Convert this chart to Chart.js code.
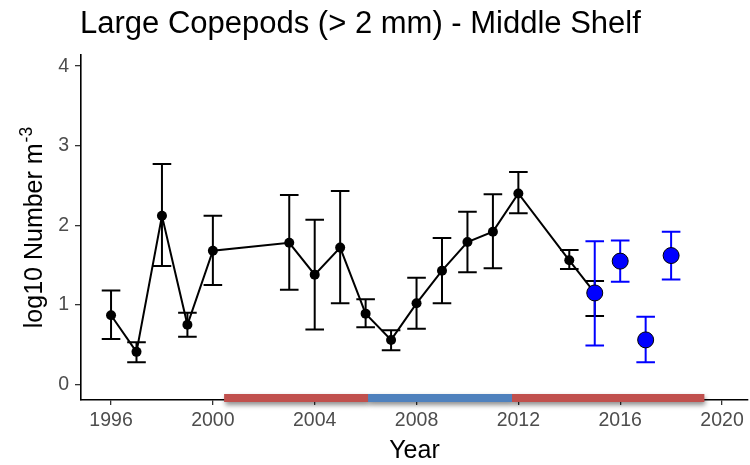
<!DOCTYPE html>
<html>
<head>
<meta charset="utf-8">
<script src="https://cdn.jsdelivr.net/npm/chart.js@4.4.1/dist/chart.umd.min.js"></script>
<style>
  html, body { margin: 0; padding: 0; background: #ffffff; }
  #wrap { width: 750px; height: 465px; position: relative; }
</style>
</head>
<body>
<div id="wrap"><canvas id="chart" width="750" height="465"></canvas></div>
<script>
// Survey years with mean abundance (log10 number per m^3) and error-bar limits
const surveyYears = [1996, 1997, 1998, 1999, 2000, 2003, 2004, 2005, 2006, 2007, 2008, 2009, 2010, 2011, 2012, 2014, 2015];
const surveyMean  = [0.87, 0.41, 2.12, 0.75, 1.68, 1.78, 1.38, 1.72, 0.89, 0.56, 1.02, 1.43, 1.79, 1.92, 2.40, 1.56, 1.15];
const surveyLow   = [0.57, 0.28, 1.49, 0.60, 1.25, 1.19, 0.69, 1.02, 0.72, 0.43, 0.70, 1.02, 1.41, 1.46, 2.15, 1.45, 0.86];
const surveyHigh  = [1.18, 0.53, 2.77, 0.90, 2.12, 2.38, 2.07, 2.43, 1.07, 0.68, 1.34, 1.84, 2.17, 2.39, 2.67, 1.69, 1.30];

// Recent-year estimates
const recentYears = [2015, 2016, 2017, 2018];
const recentMean  = [1.15, 1.55, 0.56, 1.62];
const recentLow   = [0.49, 1.29, 0.28, 1.32];
const recentHigh  = [1.80, 1.81, 0.85, 1.92];

// Warm / cold periods along the time axis
const periodStart = [2000.45, 2006.1, 2011.75];
const periodEnd   = [2006.1, 2011.75, 2019.3];
const periodKind  = ['warm', 'cold', 'warm'];

// Axis ticks
const xTicks = [1996, 2000, 2004, 2008, 2012, 2016, 2020];
const yTicks = [0, 1, 2, 3, 4];

const FONT = '"Liberation Sans", Arial, Helvetica, sans-serif';
const periodColors = { warm: '#C0504D', cold: '#4F81BD' };

const toXY = (xs, ys) => xs.map((x, i) => ({ x: x, y: ys[i] }));

// Error bars drawn just beneath each dataset's own points
const errorBars = {
  id: 'errorBars',
  beforeDatasetDraw(chart, args) {
    const ds = chart.data.datasets[args.index];
    if (!ds.errYears) return;
    const { x, y } = chart.scales;
    const ctx = chart.ctx;
    const half = 9.3;
    ctx.save();
    ctx.strokeStyle = ds.errColor;
    ctx.lineWidth = 2;
    ctx.lineCap = 'butt';
    ds.errYears.forEach((yr, i) => {
      const px = x.getPixelForValue(yr);
      const pLo = y.getPixelForValue(ds.errLow[i]);
      const pHi = y.getPixelForValue(ds.errHigh[i]);
      ctx.beginPath();
      ctx.moveTo(px, pLo); ctx.lineTo(px, pHi);
      ctx.moveTo(px - half, pLo); ctx.lineTo(px + half, pLo);
      ctx.moveTo(px - half, pHi); ctx.lineTo(px + half, pHi);
      ctx.stroke();
    });
    ctx.restore();
  }
};

// Period strip along the bottom of the panel, with a soft drop shadow
const periodStrip = {
  id: 'periodStrip',
  afterDatasetsDraw(chart) {
    const { x } = chart.scales;
    const area = chart.chartArea;
    const ctx = chart.ctx;
    const top = area.bottom - 6, h = 8;
    const paint = () => periodStart.forEach((s, i) => {
      const x0 = x.getPixelForValue(s);
      const x1 = x.getPixelForValue(periodEnd[i]);
      ctx.fillStyle = periodColors[periodKind[i]];
      ctx.fillRect(x0, top, x1 - x0, h);
    });
    ctx.save();
    ctx.shadowColor = 'rgba(0,0,0,0.45)';
    ctx.shadowBlur = 5;
    ctx.shadowOffsetX = 1;
    ctx.shadowOffsetY = 3;
    paint();
    ctx.restore();
    // repaint without shadow so neighbouring segments stay crisp
    ctx.save();
    paint();
    ctx.restore();
  }
};

// Title and axis titles (y title carries a superscript exponent)
const titles = {
  id: 'titles',
  afterDraw(chart) {
    const ctx = chart.ctx;
    const area = chart.chartArea;
    ctx.save();
    ctx.fillStyle = '#000';
    ctx.textBaseline = 'alphabetic';
    ctx.textAlign = 'left';
    ctx.font = '31px ' + FONT;
    ctx.fillText('Large Copepods (> 2 mm) - Middle Shelf', 80, 33);

    ctx.textAlign = 'center';
    ctx.font = '25px ' + FONT;
    ctx.fillText('Year', (area.left + area.right) / 2, 458);

    // rotated y title
    const main = 'log10 Number m';
    const sup = '-3';
    ctx.font = '25px ' + FONT;
    const wMain = ctx.measureText(main).width;
    ctx.font = '17.5px ' + FONT;
    const wSup = ctx.measureText(sup).width;
    const total = wMain + wSup + 1;
    const cy = (area.top + area.bottom) / 2;
    ctx.translate(42, cy);
    ctx.rotate(-Math.PI / 2);
    ctx.textAlign = 'left';
    ctx.font = '25px ' + FONT;
    ctx.fillText(main, -total / 2, 0);
    ctx.font = '17.5px ' + FONT;
    ctx.fillText(sup, -total / 2 + wMain + 1, -10);
    ctx.restore();
  }
};

const tickFont = { family: FONT, size: 19.5 };

new Chart(document.getElementById('chart'), {
  type: 'line',
  data: {
    datasets: [
      {
        label: 'recent',
        data: toXY(recentYears, recentMean),
        showLine: false,
        pointRadius: 8,
        pointBackgroundColor: '#0000FF',
        pointBorderColor: '#000000',
        pointBorderWidth: 1,
        errYears: recentYears, errLow: recentLow, errHigh: recentHigh, errColor: '#0000FF',
        order: 1
      },
      {
        label: 'survey',
        data: toXY(surveyYears, surveyMean),
        showLine: true,
        borderColor: '#000000',
        borderWidth: 2,
        tension: 0,
        pointRadius: 5,
        pointBackgroundColor: '#000000',
        pointBorderColor: '#000000',
        pointBorderWidth: 0,
        errYears: surveyYears, errLow: surveyLow, errHigh: surveyHigh, errColor: '#000000',
        order: 2
      }
    ]
  },
  options: {
    responsive: false,
    animation: false,
    devicePixelRatio: 1,
    layout: { autoPadding: false, padding: { top: 55, right: 2, left: 0, bottom: 0 } },
    plugins: { legend: { display: false }, tooltip: { enabled: false }, title: { display: false } },
    scales: {
      x: {
        type: 'linear',
        min: 1994.82,
        max: 2021.02,
        afterBuildTicks: s => { s.ticks = xTicks.map(v => ({ value: v })); },
        afterFit: s => { s.height = 65; s.paddingLeft = 0; s.paddingRight = 0; },
        ticks: { font: tickFont, color: '#4D4D4D', padding: 4, maxRotation: 0, autoSkip: false,
                 callback: v => String(v) },
        grid: { display: true, drawOnChartArea: false, drawTicks: true, tickLength: 5, color: '#333333', lineWidth: 1.3 },
        border: { display: true, color: '#000000', width: 1.6 }
      },
      y: {
        type: 'linear',
        min: -0.195,
        max: 4.14,
        afterBuildTicks: s => { s.ticks = yTicks.map(v => ({ value: v })); },
        afterFit: s => { s.width = 81; s.paddingTop = 0; s.paddingBottom = 0; },
        ticks: { font: tickFont, color: '#4D4D4D', padding: 6, autoSkip: false, callback: v => String(v) },
        grid: { display: true, drawOnChartArea: false, drawTicks: true, tickLength: 6, color: '#333333', lineWidth: 1.3 },
        border: { display: true, color: '#000000', width: 1.6 }
      }
    }
  },
  plugins: [errorBars, periodStrip, titles]
});
</script>
</body>
</html>
